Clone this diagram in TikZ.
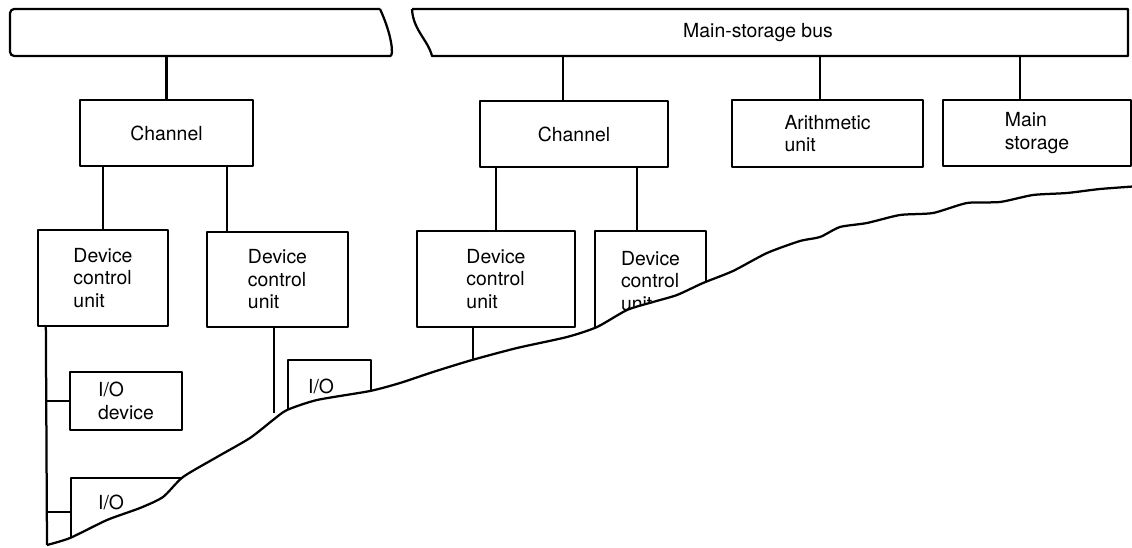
\documentclass[tikz,border=0pt]{standalone}
\usepackage{fontspec}
\setmainfont{TeX Gyre Heros}

\begin{document}
\begin{tikzpicture}[
  x=0.025cm, y=-0.025cm, line width=1.6pt, line join=round,
  box/.style={draw, inner sep=0pt, font=\fontsize{13.8}{16}\selectfont},
  unitbox/.style={box, align=left},
  cutbox/.style={box, anchor=north west, align=left, text height=#1, text depth=1.2cm}
]
  \useasboundingbox (0,0) rectangle (1132,547);
  % buses
  \node (lbus) at (198,32.5) [minimum height=1.175cm] {};
  \node (mbus) at (758,32.5) [minimum height=1.175cm, font=\fontsize{13.8}{16}\selectfont] {Main-storage bus};
  \draw (380,9) [rounded corners=3pt] -- (10,9) -- (10,56) -- (386,56) [sharp corners] .. controls (394,56) and (392,35) .. (380,9);
  \draw (412,9) -- (1128,9) -- (1128,56) -- (432,56) .. controls (428,40) and (413,30) .. (412,9);

  % units
  \node[box, minimum width=4.325cm, minimum height=1.65cm] (ch1) at (166.5,133) {Channel};
  \node[box, minimum width=4.7cm, minimum height=1.65cm] (ch2) at (574,134) {Channel};
  \node[unitbox, minimum width=4.775cm, minimum height=1.675cm] (arith) at (827.5,133.5) {Arithmetic\\unit};
  \node[unitbox, minimum width=4.7cm, minimum height=1.65cm] (mainst) at (1037,133) {Main\\storage};
  \node[unitbox, minimum width=3.25cm, minimum height=2.4cm] (dcu1) at (103,278) {Device\\control\\unit};
  \node[unitbox, minimum width=3.525cm, minimum height=2.375cm] (dcu2) at (277.5,279.5) {Device\\control\\unit};
  \node[unitbox, minimum width=3.95cm, minimum height=2.4cm] (dcu3) at (496,279) {Device\\control\\unit};
  \node[unitbox, minimum width=2.775cm, minimum height=2.5cm] (dcu4) at (650.5,281) {Device\\control\\unit};
  \node[unitbox, minimum width=2.8cm, minimum height=1.45cm] (io1) at (126,401) {I/O\\device};
  \node[cutbox=0.775cm, inner xsep=0.675cm, text width=4cm] (io2) at (70,477) {I/O};
  \node[cutbox=0.825cm, inner xsep=0.5cm, text width=1.075cm] (io3) at (287,359) {I/O};

  % bus lines
  \draw (ch1.north) -- (ch1.north |- lbus.south);
  \coordinate (ch2top) at ([xshift=-0.275cm]ch2.north);
  \draw (ch2top) -- (ch2top |- mbus.south);
  \coordinate (artop) at ([xshift=-0.19cm]arith.north);
  \draw (artop) -- (artop |- mbus.south);
  \coordinate (mstop) at ([xshift=-0.425cm]mainst.north);
  \draw (mstop) -- (mstop |- mbus.south);

  % channel lines
  \draw (dcu1.north) -- (dcu1.north |- ch1.south);
  \coordinate (d2top) at ([xshift=0.525cm]dcu2.north west);
  \draw (d2top) -- (d2top |- ch1.south);
  \draw (dcu3.north) -- (dcu3.north |- ch2.south);
  \coordinate (d4top) at ([xshift=-0.3375cm]dcu4.north);
  \draw (d4top) -- (d4top |- ch2.south);

  % device lines
  \coordinate (tear) at (47,545);
  \draw ([xshift=0.225cm]dcu1.south west) -- (tear);
  \draw (io1.west) -- (io1.west -| tear);
  \coordinate (io2in) at ([yshift=-0.875cm]io2.north west);
  \draw (io2in) -- (io2in -| tear);
  \coordinate (d2end) at (274,413);
  \draw (dcu2.south -| d2end) -- (d2end);
  \coordinate (d3end) at (473,362);
  \draw (dcu3.south -| d3end) -- (d3end);

  % torn edge
  \fill[white] plot[smooth, tension=0.4] coordinates {(47,545) (70,538) (107,520) (140,508) (163,497) (183,477) (217,457) (250,438) (273,420) (287,410) (317,400) (370,391) (400,383) (433,372) (472,360) (517,348) (567,337) (597,327) (627,310) (653,302) (677,295) (703,283) (733,271) (767,253) (800,241) (820,237) (840,227) (867,223) (900,215) (933,213) (967,203) (1000,202) (1033,195) (1067,193) (1100,189) (1140,186)} -- (1150,570) -- (30,570) -- cycle;
  \draw plot[smooth, tension=0.4] coordinates {(47,545) (70,538) (107,520) (140,508) (163,497) (183,477) (217,457) (250,438) (273,420) (287,410) (317,400) (370,391) (400,383) (433,372) (472,360) (517,348) (567,337) (597,327) (627,310) (653,302) (677,295) (703,283) (733,271) (767,253) (800,241) (820,237) (840,227) (867,223) (900,215) (933,213) (967,203) (1000,202) (1033,195) (1067,193) (1100,189) (1140,186)};
\end{tikzpicture}
\end{document}
